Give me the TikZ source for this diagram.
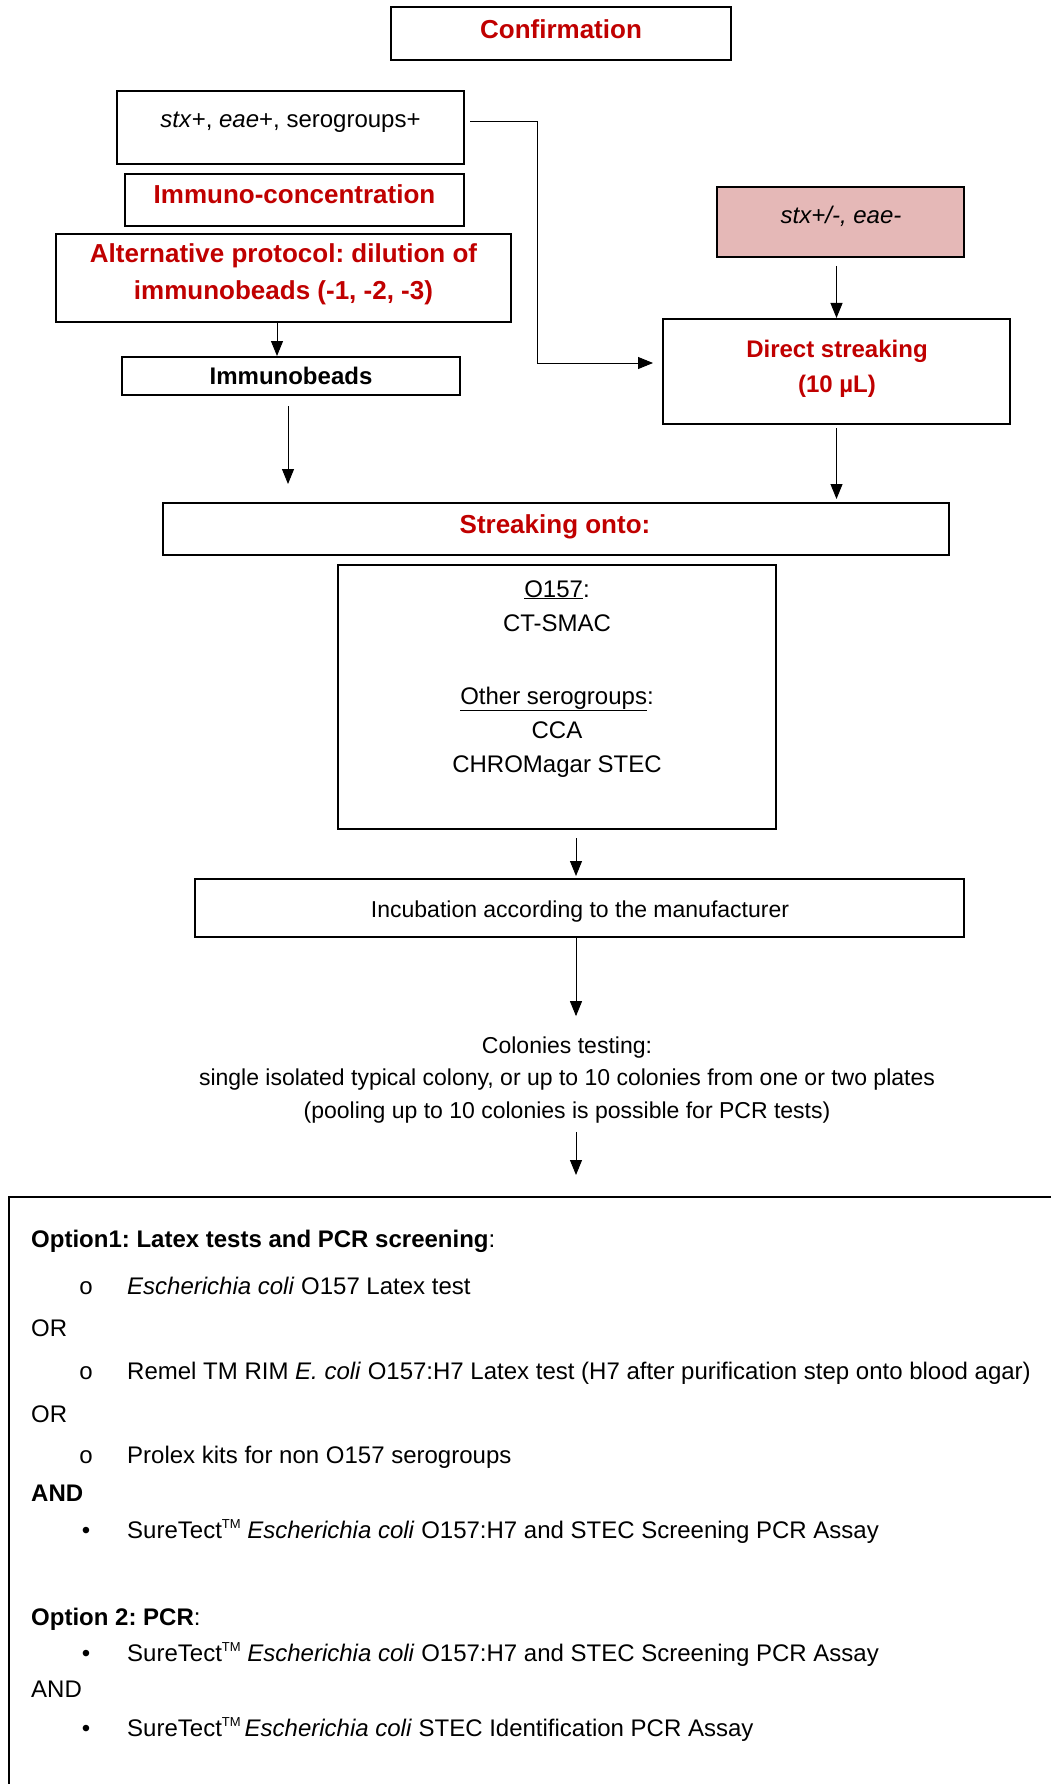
\documentclass[tikz,border=0pt]{standalone}
\usepackage{fontspec}
\setmainfont{Liberation Sans}
\newfontfamily\bulletfont{Liberation Mono}
\usetikzlibrary{arrows.meta}
\definecolor{headred}{HTML}{C00000}
\definecolor{pinkfill}{HTML}{E5B8B7}
\frenchspacing
\newcommand{\tmark}{\raisebox{0.75ex}{\fontsize{13}{13}\selectfont TM}}
\tikzset{
  box/.style={draw, line width=2pt, inner sep=0pt},
  lbl/.style={inner sep=0pt, anchor=base, align=center, font=\fontsize{24}{35}\selectfont},
  head/.style={lbl, font=\fontsize{26}{37}\selectfont\bfseries, text=headred},
  small/.style={lbl, font=\fontsize{23}{32.5}\selectfont},
  line/.style={inner sep=0pt, anchor=base west, font=\fontsize{24}{35}\selectfont},
  dot/.style={inner sep=0pt, anchor=base, font=\fontsize{24}{35}\selectfont},
  arr/.style={-{Triangle[length=15pt,width=12pt]}, line width=0.9pt},
}
\begin{document}
\begin{tikzpicture}[x=1pt, y=-1pt]
    \useasboundingbox (0,0) rectangle (1051,1784);
    \clip (0,0) rectangle (1051,1784);
    % top part
    \node[box, minimum width=340pt, minimum height=53pt] (conf) at (561,33.5) {};
    \node[head] (conftxt) at (561,39) {Confirmation};
    \node[box, minimum width=347pt, minimum height=73pt] (stx) at (290.5,127.5) {};
    \node[lbl] (stxtxt) at (290.5,128) {\textit{stx}+, \textit{eae}+, serogroups+};
    \node[box, minimum width=339pt, minimum height=52pt] (immuno) at (294.5,200) {};
    \node[head] (immunotxt) at (294.5,204) {Immuno-concentration};
    \node[box, minimum width=455pt, minimum height=88pt] (alt) at (283.5,278) {};
    \node[head] (alttxt) at (283.5,300) {Alternative protocol: dilution of\\immunobeads (-1, -2, -3)};
    \node[box, minimum width=338pt, minimum height=38pt] (beads) at (291,376) {};
    \node[lbl, font=\fontsize{24}{35}\selectfont\bfseries] (beadstxt) at (291,384) {Immunobeads};
    \node[box, fill=pinkfill, minimum width=247pt, minimum height=70pt] (pink) at (840.5,222) {};
    \node[lbl] (pinktxt) at (841,224) {\textit{stx+/-, eae-}};
    \node[box, minimum width=347pt, minimum height=105pt] (direct) at (836.5,371.5) {};
    \node[head, font=\fontsize{24}{35}\selectfont\bfseries] (directtxt) at (837,392) {Direct streaking\\(10 µL)};
    % streaking and media
    \node[box, minimum width=786pt, minimum height=52pt] (streak) at (556,529) {};
    \node[head] (streaktxt) at (555,533) {Streaking onto:};
    \node[box, minimum width=438pt, minimum height=264pt] (media) at (557,697) {};
    \node[lbl, font=\fontsize{24}{34}\selectfont] (mediatxt) at (557,772)
        {\underline{O157}:\\CT-SMAC\\[39pt]\underline{Other serogroups}:\\CCA\\CHROMagar STEC};
    \node[box, minimum width=769pt, minimum height=58pt] (incub) at (579.5,908) {};
    \node[small] (incubtxt) at (580,917) {Incubation according to the manufacturer};
    \node[small] (colon) at (567,1118) {Colonies testing:\\single isolated typical colony, or up to 10 colonies from one or two plates\\(pooling up to 10 colonies is possible for PCR tests)};
    % options
    \node[box, minimum width=1061pt, minimum height=603pt] (opts) at (539.5,1498.5) {};
    \node[line] (opt1) at (31,1247) {\textbf{Option1: Latex tests and PCR screening}:};
    \node[dot] (b1) at (86,1294) {\bulletfont o};
    \node[line] (t1) at (127,1294) {\textit{Escherichia coli} O157 Latex test};
    \node[line] (or1) at (31,1336) {OR};
    \node[dot] (b2) at (86,1379) {\bulletfont o};
    \node[line] (t2) at (127,1379) {Remel TM RIM \textit{E. coli} O157:H7 Latex test (H7 after purification step onto blood agar)};
    \node[line] (or2) at (31,1422) {OR};
    \node[dot] (b3) at (86,1463) {\bulletfont o};
    \node[line] (t3) at (127,1463) {Prolex kits for non O157 serogroups};
    \node[line] (and1) at (31,1501) {\textbf{AND}};
    \node[dot] (b4) at (86,1538) {•};
    \node[line] (t4) at (127,1538) {SureTect\tmark{} \textit{Escherichia coli} O157:H7 and STEC Screening PCR Assay};
    \node[line] (opt2) at (31,1625) {\textbf{Option 2: PCR}:};
    \node[dot] (b5) at (86,1661) {•};
    \node[line] (t5) at (127,1661) {SureTect\tmark{} \textit{Escherichia coli} O157:H7 and STEC Screening PCR Assay};
    \node[line] (and2) at (31,1697) {AND};
    \node[dot] (b6) at (86,1736) {•};
    \node[line] (t6) at (127,1736) {SureTect\tmark\,\textit{Escherichia coli} STEC Identification PCR Assay};
    % connectors
    \draw[arr] ([xshift=5pt,yshift=6pt]stx.east) -- ++(67,0) |- ([xshift=-9pt,yshift=8.5pt]direct.west);
    \draw[arr] ([yshift=-8pt]pink.south -| direct.north) -- (direct.north);
    \draw[arr] ([xshift=-6.5pt]alt.south) -- ([xshift=-6.5pt]alt.south |- beads.north);
    \draw[arr] ([xshift=-3pt,yshift=-10pt]beads.south) -- ([xshift=-3pt,yshift=18pt]beads.south |- streak.north);
    \draw[arr] ([yshift=-3pt]direct.south) -- ([yshift=3pt]direct.south |- streak.north);
    \draw[arr] ([xshift=19pt,yshift=-8pt]media.south) -- ([xshift=19pt,yshift=2pt]media.south |- incub.north);
    \draw[arr] ([xshift=-3.5pt]incub.south) -- ([xshift=-3.5pt,yshift=20pt]incub.south |- colon.north);
    \draw[arr] ([xshift=9pt,yshift=-9pt]colon.south) -- ([xshift=9pt,yshift=21pt]colon.south |- opts.north);
\end{tikzpicture}
\end{document}
